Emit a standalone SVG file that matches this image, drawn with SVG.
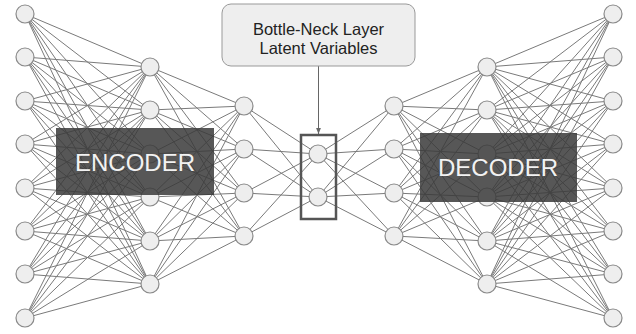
<svg xmlns="http://www.w3.org/2000/svg" width="636" height="334" viewBox="0 0 636 334">
<style>
.edge{stroke:#7a7a7a;stroke-width:1;fill:none}
.node{fill:#eeeeee;stroke:#8a8a8a;stroke-width:1.2}
.block{fill:#3a3a3a;fill-opacity:0.85}
.blocktxt{font-family:"Liberation Sans",Arial,sans-serif;font-size:24px;fill:#f2f2f2;text-anchor:middle}
.lbl{font-family:"Liberation Sans",Arial,sans-serif;font-size:16.5px;fill:#222;text-anchor:middle}
</style>
<defs>
<marker id="arr" viewBox="0 0 10 10" refX="10" refY="5" markerWidth="6" markerHeight="6" orient="auto"><path d="M0 1L10 5L0 9z" fill="#666"/></marker>
</defs>
<rect width="636" height="334" fill="#fff"/>
<g id="connectors">
<path class="edge" d="M25 14 150 67M25 14 150 110M25 14 150 154M25 14 150 197M25 14 150 241M25 14 150 284
M25 57 150 67M25 57 150 110M25 57 150 154M25 57 150 197M25 57 150 241M25 57 150 284
M25 101 150 67M25 101 150 110M25 101 150 154M25 101 150 197M25 101 150 241M25 101 150 284
M25 144 150 67M25 144 150 110M25 144 150 154M25 144 150 197M25 144 150 241M25 144 150 284
M25 188 150 67M25 188 150 110M25 188 150 154M25 188 150 197M25 188 150 241M25 188 150 284
M25 231 150 67M25 231 150 110M25 231 150 154M25 231 150 197M25 231 150 241M25 231 150 284
M25 274 150 67M25 274 150 110M25 274 150 154M25 274 150 197M25 274 150 241M25 274 150 284
M25 318 150 67M25 318 150 110M25 318 150 154M25 318 150 197M25 318 150 241M25 318 150 284
M150 67 244 106M150 67 244 149M150 67 244 193M150 67 244 236
M150 110 244 106M150 110 244 149M150 110 244 193M150 110 244 236
M150 154 244 106M150 154 244 149M150 154 244 193M150 154 244 236
M150 197 244 106M150 197 244 149M150 197 244 193M150 197 244 236
M150 241 244 106M150 241 244 149M150 241 244 193M150 241 244 236
M150 284 244 106M150 284 244 149M150 284 244 193M150 284 244 236
M244 106 318 154M244 106 318 197M244 149 318 154M244 149 318 197
M244 193 318 154M244 193 318 197M244 236 318 154M244 236 318 197
M394 106 318 154M394 106 318 197M394 149 318 154M394 149 318 197
M394 193 318 154M394 193 318 197M394 236 318 154M394 236 318 197
M487 67 394 106M487 67 394 149M487 67 394 193M487 67 394 236
M487 110 394 106M487 110 394 149M487 110 394 193M487 110 394 236
M487 154 394 106M487 154 394 149M487 154 394 193M487 154 394 236
M487 197 394 106M487 197 394 149M487 197 394 193M487 197 394 236
M487 241 394 106M487 241 394 149M487 241 394 193M487 241 394 236
M487 284 394 106M487 284 394 149M487 284 394 193M487 284 394 236
M613 14 487 67M613 14 487 110M613 14 487 154M613 14 487 197M613 14 487 241M613 14 487 284
M613 57 487 67M613 57 487 110M613 57 487 154M613 57 487 197M613 57 487 241M613 57 487 284
M613 101 487 67M613 101 487 110M613 101 487 154M613 101 487 197M613 101 487 241M613 101 487 284
M613 144 487 67M613 144 487 110M613 144 487 154M613 144 487 197M613 144 487 241M613 144 487 284
M613 188 487 67M613 188 487 110M613 188 487 154M613 188 487 197M613 188 487 241M613 188 487 284
M613 231 487 67M613 231 487 110M613 231 487 154M613 231 487 197M613 231 487 241M613 231 487 284
M613 274 487 67M613 274 487 110M613 274 487 154M613 274 487 197M613 274 487 241M613 274 487 284
M613 318 487 67M613 318 487 110M613 318 487 154M613 318 487 197M613 318 487 241M613 318 487 284"/>
<line x1="318.5" y1="66" x2="318.5" y2="134" stroke="#666" stroke-width="1" marker-end="url(#arr)"/>
</g>
<g id="input-layer">
<circle class="node" cx="25" cy="14" r="9"/><circle class="node" cx="25" cy="57" r="9"/><circle class="node" cx="25" cy="101" r="9"/><circle class="node" cx="25" cy="144" r="9"/><circle class="node" cx="25" cy="188" r="9"/><circle class="node" cx="25" cy="231" r="9"/><circle class="node" cx="25" cy="274" r="9"/><circle class="node" cx="25" cy="318" r="9"/>
</g>
<g id="encoder-hidden-1">
<circle class="node" cx="150" cy="67" r="9"/><circle class="node" cx="150" cy="110" r="9"/><circle class="node" cx="150" cy="154" r="9"/><circle class="node" cx="150" cy="197" r="9"/><circle class="node" cx="150" cy="241" r="9"/><circle class="node" cx="150" cy="284" r="9"/>
</g>
<g id="encoder-hidden-2">
<circle class="node" cx="244" cy="106" r="9"/><circle class="node" cx="244" cy="149" r="9"/><circle class="node" cx="244" cy="193" r="9"/><circle class="node" cx="244" cy="236" r="9"/>
</g>
<g id="bottleneck">
<circle class="node" cx="318" cy="154" r="9"/><circle class="node" cx="318" cy="197" r="9"/>
<rect x="301" y="135" width="35" height="84" fill="none" stroke="#555" stroke-width="2.5"/>
</g>
<g id="decoder-hidden-1">
<circle class="node" cx="394" cy="106" r="9"/><circle class="node" cx="394" cy="149" r="9"/><circle class="node" cx="394" cy="193" r="9"/><circle class="node" cx="394" cy="236" r="9"/>
</g>
<g id="decoder-hidden-2">
<circle class="node" cx="487" cy="67" r="9"/><circle class="node" cx="487" cy="110" r="9"/><circle class="node" cx="487" cy="154" r="9"/><circle class="node" cx="487" cy="197" r="9"/><circle class="node" cx="487" cy="241" r="9"/><circle class="node" cx="487" cy="284" r="9"/>
</g>
<g id="output-layer">
<circle class="node" cx="613" cy="14" r="9"/><circle class="node" cx="613" cy="57" r="9"/><circle class="node" cx="613" cy="101" r="9"/><circle class="node" cx="613" cy="144" r="9"/><circle class="node" cx="613" cy="188" r="9"/><circle class="node" cx="613" cy="231" r="9"/><circle class="node" cx="613" cy="274" r="9"/><circle class="node" cx="613" cy="318" r="9"/>
</g>
<g id="encoder">
<rect class="block" x="56" y="128" width="158" height="67"/>
<text class="blocktxt" x="135" y="171">ENCODER</text>
</g>
<g id="decoder">
<rect class="block" x="420" y="133" width="157" height="69"/>
<text class="blocktxt" x="498" y="176">DECODER</text>
</g>
<g id="label">
<rect x="222" y="4" width="193" height="62" rx="9" fill="#eeeeee" stroke="#999" stroke-width="1"/>
<text class="lbl" x="318.5" y="35">Bottle-Neck Layer</text>
<text class="lbl" x="318.5" y="54">Latent Variables</text>
</g>
</svg>
